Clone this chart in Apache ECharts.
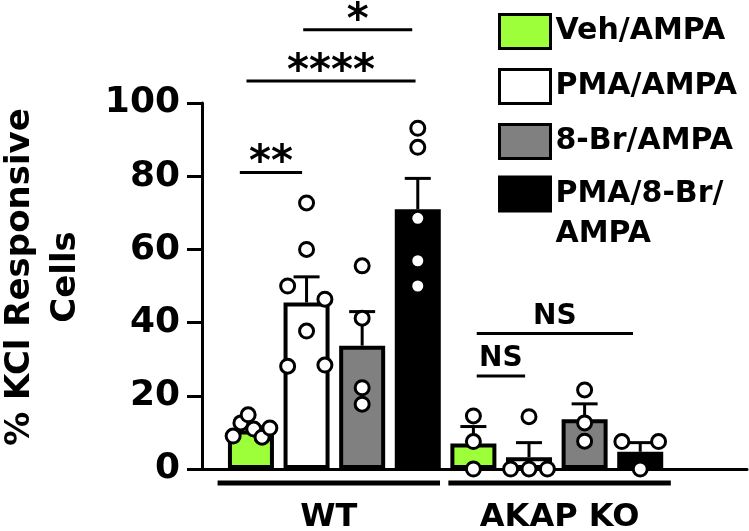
<!DOCTYPE html>
<html>
<head>
<meta charset="utf-8">
<script src="https://cdn.jsdelivr.net/npm/echarts@6/dist/echarts.min.js"></script>
<style>
  html, body { margin: 0; padding: 0; background: #fff; }
  #chart { width: 749px; height: 531px; }
</style>
</head>
<body>
<div id="chart"></div>
<script>
  const treatments = ['Veh/AMPA', 'PMA/AMPA', '8-Br/AMPA', 'PMA/8-Br/AMPA'];
  const barColors = ['#9cff3a', '#ffffff', '#808080', '#000000'];
  const groups = ['WT', 'AKAP KO'];
  const yTicks = [0, 20, 40, 60, 80, 100];

  const wtMean = [10.5, 45.5, 33.7, 71.0];
  const wtSem = [1.0, 7.0, 9.3, 8.4];
  const koMean = [7.0, 3.2, 13.6, 4.7];
  const koSem = [4.6, 4.0, 4.2, 2.5];

  // single cells per bar, with their horizontal spread (in bar widths)
  const wtPoints = [
    [9.0, 12.6, 14.8, 10.9, 8.7, 11.2],
    [72.7, 60.0, 50.0, 46.4, 37.7, 28.1, 28.4],
    [55.5, 41.2, 22.2, 17.7],
    [93.1, 87.9, 68.5, 56.9, 50.0],
  ];
  const wtJitter = [
    [-0.32, -0.18, -0.05, 0.05, 0.2, 0.34],
    [0, 0, -0.34, 0.33, 0, -0.34, 0.33],
    [0, 0, 0, 0],
    [0, 0, 0, 0, 0],
  ];
  const koPoints = [
    [14.5, 7.5, 0],
    [14.3, 0, 0, 0],
    [21.6, 12.6, 7.6],
    [7.5, 7.5, 0],
  ];
  const koJitter = [
    [0, 0, 0],
    [0, -0.33, 0, 0.33],
    [0, 0, 0],
    [-0.33, 0.33, 0],
  ];

  const sigLabels = ['**', '****', '*', 'NS', 'NS'];
  const sigFrom = [-0.2, -0.08, 0.94, 4.06, 4.06];
  const sigTo = [0.92, 2.96, 2.9, 6.87, 4.93];
  const sigLevel = [81, 106, 120, 37, 25.4];

  const groupFrom = [-0.6, 3.55];
  const groupTo = [3.4, 7.55];

  const font = '"DejaVu Sans", sans-serif';

  const chart = echarts.init(document.getElementById('chart'));

  const barSeries = treatments.map((name, i) => ({
    name,
    type: 'bar',
    barWidth: 46,
    barGap: '-100%',
    z: 2,
    itemStyle: { color: barColors[i], borderColor: '#000', borderWidth: 4 },
    data: [[i, wtMean[i]], [i + 4, koMean[i]]],
  }));

  const errData = [];
  const pointData = [];
  treatments.forEach((_, i) => {
    errData.push([i, wtMean[i], wtSem[i]]);
    errData.push([i + 4, koMean[i], koSem[i]]);
    wtPoints[i].forEach((v, k) => pointData.push([i + wtJitter[i][k], v]));
    koPoints[i].forEach((v, k) => pointData.push([i + 4 + koJitter[i][k], v]));
  });

  const legendBase = {
    orient: 'vertical',
    left: 498,
    padding: 0,
    itemWidth: 51,
    itemHeight: 34,
    itemGap: 18,
    selectedMode: false,
    icon: 'rect',
    itemStyle: { borderColor: '#000', borderWidth: 3 },
    textStyle: { fontSize: 30, fontWeight: 'bold', color: '#000', fontFamily: font },
  };

  const option = {
    animation: false,
    grid: { left: 202, right: 2, top: 103, bottom: 62, containLabel: false, outerBoundsMode: 'none' },
    legend: [
      { ...legendBase, top: 13, data: treatments.slice(0, 3) },
      {
        // last entry wraps: first line sits level with the box
        ...legendBase,
        top: 134,
        formatter: () => '\nPMA/8-Br/\nAMPA',
        textStyle: { ...legendBase.textStyle, lineHeight: 40 },
        data: [treatments[3]],
      },
    ],
    xAxis: {
      type: 'value',
      min: -0.88,
      max: 8.92,
      axisLine: { show: true, lineStyle: { color: '#000', width: 3 } },
      axisTick: { show: false },
      axisLabel: { show: false },
      splitLine: { show: false },
    },
    yAxis: {
      type: 'value',
      min: yTicks[0],
      max: yTicks[yTicks.length - 1],
      interval: yTicks[1] - yTicks[0],
      name: '% KCl Responsive\nCells',
      nameLocation: 'middle',
      nameRotate: 90,
      nameGap: 113,
      nameTextStyle: {
        fontSize: 34, fontWeight: 'bold', color: '#000', lineHeight: 46, fontFamily: font,
        padding: [0, 0, 0, 18],
      },
      axisLine: { show: true, onZero: false, lineStyle: { color: '#000', width: 3 } },
      axisTick: { show: true, length: 15, lineStyle: { color: '#000', width: 3 } },
      axisLabel: { fontSize: 36, fontWeight: 'bold', color: '#000', margin: 22, fontFamily: font },
      splitLine: { show: false },
    },
    series: [
      ...barSeries,
      {
        type: 'custom',
        name: 'sem',
        z: 3,
        clip: false,
        data: errData,
        encode: { x: 0, y: 1 },
        renderItem: (params, api) => {
          const x = api.value(0);
          const m = api.value(1);
          const s = api.value(2);
          const base = api.coord([x, m]);
          const top = api.coord([x, m + s]);
          const ln = { stroke: '#000', lineWidth: 3 };
          return {
            type: 'group',
            children: [
              { type: 'line', shape: { x1: base[0], y1: base[1], x2: top[0], y2: top[1] }, style: ln },
              { type: 'line', shape: { x1: top[0] - 13, y1: top[1], x2: top[0] + 13, y2: top[1] }, style: ln },
            ],
          };
        },
      },
      {
        type: 'scatter',
        name: 'cells',
        z: 4,
        symbol: 'circle',
        symbolSize: 14,
        itemStyle: { color: '#fff', borderColor: '#000', borderWidth: 3, opacity: 1 },
        data: pointData,
      },
      {
        type: 'custom',
        name: 'sig',
        z: 5,
        clip: false,
        data: sigLabels.map((_, i) => [sigFrom[i], sigTo[i], sigLevel[i]]),
        encode: { x: [0, 1], y: 2 },
        renderItem: (params, api) => {
          const a = api.coord([api.value(0), api.value(2)]);
          const b = api.coord([api.value(1), api.value(2)]);
          const label = sigLabels[params.dataIndex];
          const isStar = label.indexOf('*') >= 0;
          return {
            type: 'group',
            children: [
              { type: 'line', shape: { x1: a[0], y1: a[1], x2: b[0], y2: b[1] }, style: { stroke: '#000', lineWidth: 3 } },
              {
                type: 'text',
                style: {
                  text: label,
                  x: (a[0] + b[0]) / 2,
                  y: isStar ? a[1] - 8 : a[1] - 17,
                  align: 'center',
                  verticalAlign: 'middle',
                  fontSize: isStar ? 42 : 28,
                  fontWeight: 'bold',
                  fontFamily: font,
                  fill: '#000',
                },
              },
            ],
          };
        },
      },
      {
        type: 'custom',
        name: 'groups',
        z: 5,
        clip: false,
        data: groups.map((_, i) => [groupFrom[i], groupTo[i], 0]),
        encode: { x: [0, 1], y: 2 },
        renderItem: (params, api) => {
          const a = api.coord([api.value(0), 0]);
          const b = api.coord([api.value(1), 0]);
          return {
            type: 'group',
            children: [
              { type: 'line', shape: { x1: a[0], y1: a[1] + 14, x2: b[0], y2: a[1] + 14 }, style: { stroke: '#000', lineWidth: 5 } },
              {
                type: 'text',
                style: {
                  text: groups[params.dataIndex],
                  x: (a[0] + b[0]) / 2,
                  y: a[1] + 49,
                  align: 'center',
                  verticalAlign: 'middle',
                  fontSize: 32,
                  fontWeight: 'bold',
                  fontFamily: font,
                  fill: '#000',
                },
              },
            ],
          };
        },
      },
    ],
  };

  chart.setOption(option);
</script>
</body>
</html>
